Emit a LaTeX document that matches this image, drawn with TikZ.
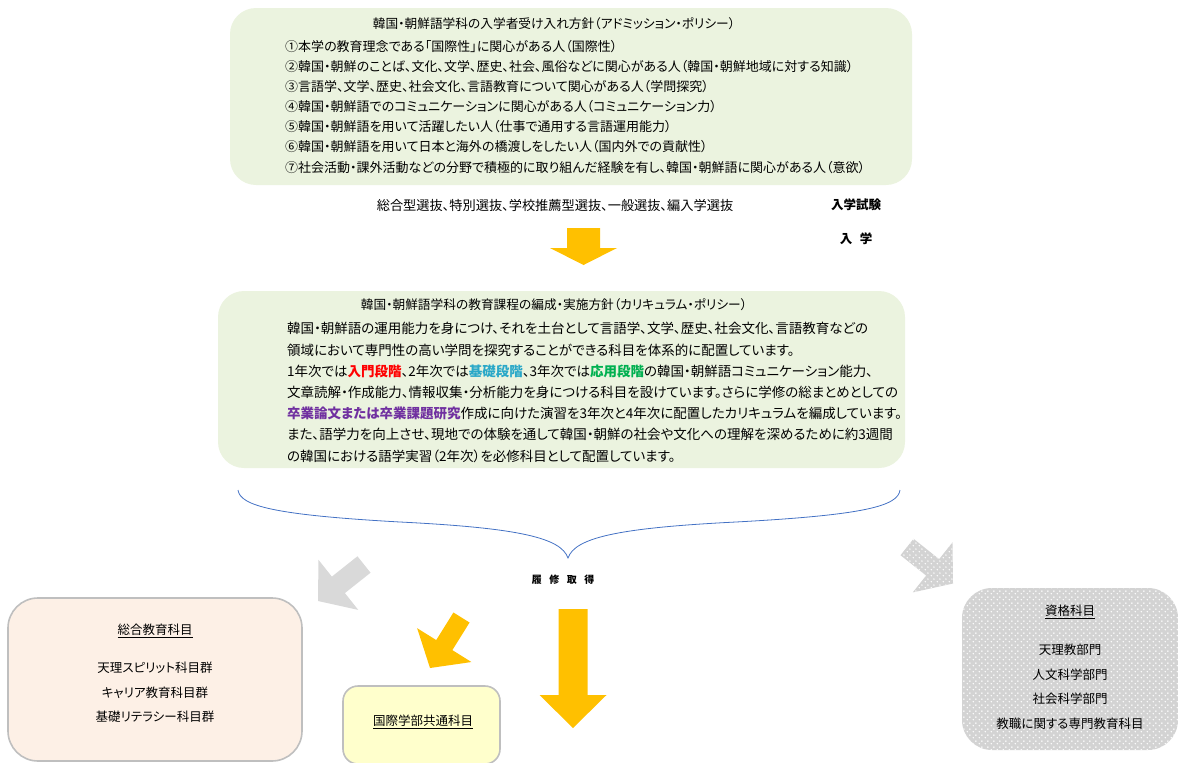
\documentclass[tikz,border=0pt]{standalone}
\usepackage{fontspec}
\setmainfont{Noto Sans CJK JP}[CharacterWidth=AlternateProportional]
\usetikzlibrary{calc,patterns.meta}
\definecolor{boxgreen}{HTML}{EBF3DF}
\definecolor{arrowyellow}{HTML}{FFC000}
\definecolor{arrowgray}{HTML}{D9D9D9}
\definecolor{peach}{HTML}{FDF0E6}
\definecolor{paleyellow}{HTML}{FFFFCC}
\definecolor{boxborder}{HTML}{BFBFBF}
\definecolor{dotgray}{HTML}{D3D3D3}
\definecolor{bracecol}{HTML}{4472C4}
\definecolor{kred}{HTML}{FF0000}
\definecolor{kcyan}{HTML}{2AA8C8}
\definecolor{kgreen}{HTML}{00B050}
\definecolor{kpurple}{HTML}{7030A0}
\tikzdeclarepattern{name=wdots,type=uncolored,bounding box={(0pt,0pt) and (6pt,6pt)},tile size={(6pt,6pt)},code={\fill (1.5pt,1.5pt) circle (0.9pt); \fill (4.5pt,4.5pt) circle (0.9pt);}}
\newcommand\blockarrow[6]{%
  \coordinate (ba) at ($(#3)!#6!(#2)$);
  \fill[#1] ($(#2)!#4!90:(#3)$) -- ($(ba)!#4!90:(#3)$) -- ($(ba)!#5!90:(#3)$) -- (#3)
    -- ($(ba)!#5!-90:(#3)$) -- ($(ba)!#4!-90:(#3)$) -- ($(#2)!#4!-90:(#3)$) -- cycle;}
\tikzset{
  greenbox/.style={fill=boxgreen,draw=none,rounded corners=26pt,inner sep=0pt},
  line/.style={anchor=west,inner sep=0pt,font=\fontsize{13}{14}\selectfont},
  cline/.style={anchor=west,inner sep=0pt,font=\fontsize{13.5}{14}\selectfont},
  ttl/.style={inner sep=0pt,font=\fontsize{12.7}{14}\selectfont},
  lbl/.style={inner sep=0pt,font=\fontsize{12.5}{14}\selectfont},
  subjbox/.style={draw=boxborder,line width=1.6pt,inner sep=0pt},
  bracepath/.style={draw=bracecol,line width=0.8pt},
}
\begin{document}
\begin{tikzpicture}[x=1pt,y=-1pt]
\useasboundingbox (0,0) rectangle (1178,763);
% ---------- admission policy box
\node[greenbox,minimum width=682pt,minimum height=177pt] (adm) at (571,96.5) {};
\node[ttl] (admt) at (554,24) {韓国・朝鮮語学科の入学者受け入れ方針（アドミッション・ポリシー）};
\node[line] (a1) at (285,47) {①本学の教育理念である「国際性」に関心がある人（国際性）};
\node[line] (a2) at (285,67) {②韓国・朝鮮のことば、文化、文学、歴史、社会、風俗などに関心がある人（韓国・朝鮮地域に対する知識）};
\node[line] (a3) at (285,87) {③言語学、文学、歴史、社会文化、言語教育について関心がある人（学問探究）};
\node[line] (a4) at (285,107) {④韓国・朝鮮語でのコミュニケーションに関心がある人（コミュニケーション力）};
\node[line] (a5) at (285,127) {⑤韓国・朝鮮語を用いて活躍したい人（仕事で通用する言語運用能力）};
\node[line] (a6) at (285,147) {⑥韓国・朝鮮語を用いて日本と海外の橋渡しをしたい人（国内外での貢献性）};
\node[line] (a7) at (285,168) {⑦社会活動・課外活動などの分野で積極的に取り組んだ経験を有し、韓国・朝鮮語に関心がある人（意欲）};
% ---------- selection
\node[ttl,font=\fontsize{13.2}{14}\selectfont] (sel) at (555,205) {総合型選抜、特別選抜、学校推薦型選抜、一般選抜、編入学選抜};
\node[lbl,font=\fontsize{12.5}{14}\selectfont\bfseries] (exam) at (856,205) {入学試験};
\node[lbl,font=\fontsize{12.5}{14}\selectfont\bfseries] (enter) at (856,239) {入\hspace{0.6em}学};
\coordinate (ya1) at (583.5,228);
\coordinate (ya2) at (583.5,265);
\blockarrow{arrowyellow}{ya1}{ya2}{16.5pt}{33.5pt}{17pt}
% ---------- curriculum policy box
\node[greenbox,minimum width=687pt,minimum height=177pt] (cur) at (561.5,379.5) {};
\node[ttl] (curt) at (554,305) {韓国・朝鮮語学科の教育課程の編成・実施方針（カリキュラム・ポリシー）};
\node[cline] (c1) at (287,328) {韓国・朝鮮語の運用能力を身につけ、それを土台として言語学、文学、歴史、社会文化、言語教育などの};
\node[cline] (c2) at (287,350) {領域において専門性の高い学問を探究することができる科目を体系的に配置しています。};
\node[cline] (c3) at (287,371) {1年次では\textbf{\color{kred}入門段階}、2年次では\textbf{\color{kcyan}基礎段階}、3年次では\textbf{\color{kgreen}応用段階}の韓国・朝鮮語コミュニケーション能力、};
\node[cline] (c4) at (287,392) {文章読解・作成能力、情報収集・分析能力を身につける科目を設けています。さらに学修の総まとめとしての};
\node[cline] (c5) at (287,413) {\textbf{\color{kpurple}卒業論文または卒業課題研究}作成に向けた演習を3年次と4年次に配置したカリキュラムを編成しています。};
\node[cline] (c6) at (287,434) {また、語学力を向上させ、現地での体験を通して韓国・朝鮮の社会や文化への理解を深めるために約3週間};
\node[cline] (c7) at (287,456) {の韓国における語学実習（2年次）を必修科目として配置しています。};
% ---------- brace
\coordinate (bl) at (238,490);
\coordinate (br) at (900,490);
\coordinate (bt) at (568,558);
\draw[bracepath] (bl) .. controls (240,506) and (275,515) .. (400,522)
  .. controls (520,528) and (561,538) .. (bt)
  .. controls (575,538) and (616,528) .. (736,522)
  .. controls (865,515) and (898,506) .. (br);
\node[lbl,font=\fontsize{10}{11}\selectfont\bfseries] (rish) at (563,580) {履\hspace{0.75em}修\hspace{0.75em}取\hspace{0.75em}得};
% ---------- arrows
\coordinate (g1a) at (364,564.5);
\coordinate (g1b) at (318,601);
\blockarrow{arrowgray}{g1a}{g1b}{10.5pt}{32pt}{26pt}
\coordinate (y2a) at (461.5,617.5);
\coordinate (y2b) at (430,668);
\blockarrow{arrowyellow}{y2a}{y2b}{9.5pt}{32pt}{27pt}
\coordinate (y3a) at (573,609);
\coordinate (y3b) at (573,728);
\blockarrow{arrowyellow}{y3a}{y3b}{14.5pt}{33.5pt}{33pt}
\coordinate (g2a) at (907,547);
\coordinate (g2b) at (953,583.5);
\blockarrow{dotgray}{g2a}{g2b}{10.5pt}{32pt}{26pt}
\blockarrow{pattern=wdots,pattern color=white}{g2a}{g2b}{10.5pt}{32pt}{26pt}
% ---------- subject boxes
\node[subjbox,fill=peach,rounded corners=30pt,minimum width=294pt,minimum height=163pt] (gen) at (155,679.5) {};
\node[lbl] (gent) at (155,631) {\underline{総合教育科目}};
\node[lbl] (gen1) at (155,668) {天理スピリット科目群};
\node[lbl] (gen2) at (155,693) {キャリア教育科目群};
\node[lbl] (gen3) at (155,717) {基礎リテラシー科目群};
\node[subjbox,fill=paleyellow,rounded corners=15pt,minimum width=157pt,minimum height=78pt] (intl) at (421.5,725) {};
\node[lbl] (intlt) at (423,722) {\underline{国際学部共通科目}};
\node[fill=dotgray,draw=none,rounded corners=30pt,minimum width=216pt,minimum height=162pt,inner sep=0pt] (qual) at (1070,669) {};
\node[pattern=wdots,pattern color=white,draw=none,rounded corners=30pt,minimum width=216pt,minimum height=162pt,inner sep=0pt] at (1070,669) {};
\node[lbl] (qualt) at (1070,612) {\underline{資格科目}};
\node[lbl] (qual1) at (1070,650) {天理教部門};
\node[lbl] (qual2) at (1070,675) {人文科学部門};
\node[lbl] (qual3) at (1070,699) {社会科学部門};
\node[lbl] (qual4) at (1070,724) {教職に関する専門教育科目};
\end{tikzpicture}
\end{document}
